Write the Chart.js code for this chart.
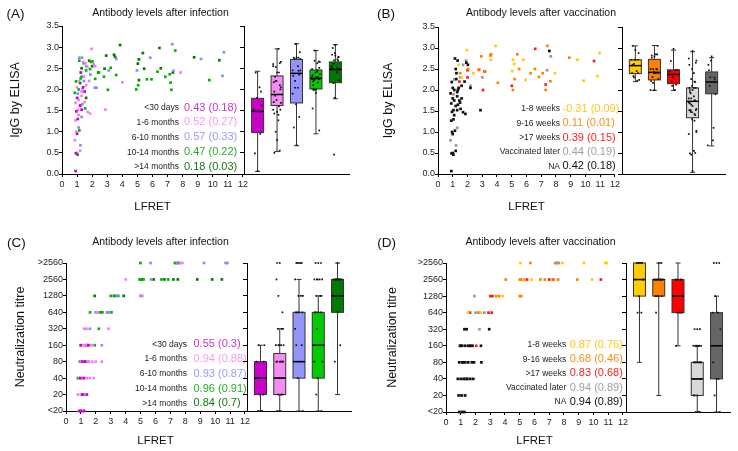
<!DOCTYPE html>
<html>
<head>
<meta charset="utf-8">
<script src="https://cdn.jsdelivr.net/npm/chart.js@4.4.1/dist/chart.umd.min.js"></script>
<style>
  html, body { margin: 0; padding: 0; background: #fff; }
  #figure { position: relative; width: 738px; height: 451px; overflow: hidden; }
  #figure canvas { position: absolute; }
</style>
</head>
<body>
<div id="figure">
  <canvas id="scatterA" width="250" height="220" style="left:0px;top:0px"></canvas>
  <canvas id="boxA" width="115" height="220" style="left:238px;top:0px"></canvas>
  <canvas id="scatterB" width="252" height="220" style="left:370px;top:0px"></canvas>
  <canvas id="boxB" width="115" height="220" style="left:615px;top:0px"></canvas>
  <canvas id="scatterC" width="252" height="221" style="left:0px;top:230px"></canvas>
  <canvas id="boxC" width="115" height="221" style="left:240px;top:230px"></canvas>
  <canvas id="scatterD" width="260" height="221" style="left:370px;top:230px"></canvas>
  <canvas id="boxD" width="118" height="221" style="left:620px;top:230px"></canvas>
</div>
<script>
// ---------- data ----------
// titre axis: '<20' is plotted as 10 and '>2560' as 5120
const titreLevels = [10, 20, 40, 80, 160, 320, 640, 1280, 2560, 5120];
const titreLabels = ['<20', '20', '40', '80', '160', '320', '640', '1280', '2560', '>2560'];

const infGroups = ['<30 days', '1-6 months', '6-10 months', '10-14 months', '>14 months'];
const vacGroups = ['1-8 weeks', '9-16 weeks', '>17 weeks', 'Vaccinated later', 'NA'];

// r (r²) printed next to each group
const elisaInfR = ['0.43 (0.18)', '0.52 (0.27)', '0.57 (0.33)', '0.47 (0.22)', '0.18 (0.03)'];
const elisaVacR = ['-0.31 (0.09)', '0.11 (0.01)', '0.39 (0.15)', '0.44 (0.19)', '0.42 (0.18)'];
const neutInfR = ['0.55 (0.3)', '0.94 (0.88)', '0.93 (0.87)', '0.96 (0.91)', '0.84 (0.7)'];
const neutVacR = ['0.87 (0.76)', '0.68 (0.46)', '0.83 (0.68)', '0.94 (0.89)', '0.94 (0.89)'];

// [LFRET, IgG ELISA] by time since infection
const elisaInfLt30 = [[0.9,0.07],[0.92,0.49],[1.0,0.95],[1.05,1.3],[0.95,1.48],[1.3,1.52],[1.2,1.62],[1.0,1.8],[1.4,2.05],[1.25,2.4],[1.5,1.95]];
const elisaInf1to6 = [[0.85,0.8],[1.0,0.5],[1.2,0.55],[0.95,1.0],[0.9,1.27],[1.05,1.52],[0.9,1.68],[1.1,1.75],[1.2,1.6],[1.3,1.85],[1.35,2.0],[1.5,1.7],[1.7,1.47],[1.86,1.43],[1.55,2.62],[1.68,2.53],[1.96,2.96],[2.1,2.6],[1.0,2.05],[1.15,2.2],[1.25,2.4],[1.45,2.3],[2.88,1.52],[4.0,2.17],[7.86,2.4],[1.3,1.95],[1.6,2.1],[1.8,2.2],[1.1,1.4],[2.2,2.55],[1.4,2.65]];
const elisaInf6to10 = [[1.15,2.75],[1.33,2.75],[1.88,2.35],[2.18,2.04],[2.29,2.04],[3.1,2.45],[4.97,2.45],[7.31,3.07],[7.4,2.44],[9.22,2.72],[10.73,2.88],[10.64,2.32],[1.22,0.68],[1.1,1.1],[1.3,1.35],[1.45,2.2],[1.6,2.55],[1.05,1.9],[3.6,2.72],[1.35,1.65],[5.85,2.75]];
const elisaInf10to14 = [[0.85,1.92],[0.93,2.19],[1.24,2.26],[1.15,2.68],[1.44,2.62],[1.86,2.48],[1.92,2.65],[2.45,2.4],[2.78,2.3],[3.04,1.99],[3.23,2.51],[3.59,2.34],[4.92,2.0],[5.05,2.1],[5.63,2.24],[5.93,2.24],[6.33,2.42],[6.85,2.3],[7.14,2.36],[7.25,1.99],[7.2,2.16],[9.77,2.22],[1.15,1.03],[1.53,1.55],[1.3,2.3],[1.1,2.0],[2.03,2.66],[7.51,2.92],[1.6,2.45],[2.2,2.25]];
const elisaInfGt14 = [[3.85,3.05],[6.46,2.98],[8.76,2.76],[10.43,2.69],[7.35,2.4],[6.55,2.5],[5.45,2.49],[5.36,2.86],[5.1,2.71],[5.03,2.61],[3.52,2.77],[3.45,2.82],[2.93,2.8],[2.82,2.49],[1.8,2.68],[1.04,0.46],[1.3,2.5],[2.0,2.55],[5.1,2.22],[1.6,1.8],[2.4,2.4],[1.2,2.15]];

// [LFRET, IgG ELISA] by time since vaccination
const elisaVac1to8 = [[1.95,2.95],[3.9,3.05],[5.09,2.72],[5.16,2.62],[5.03,2.45],[5.78,2.72],[5.94,2.24],[9.44,2.72],[9.87,2.22],[10.8,2.33],[10.95,2.88],[7.92,2.4],[3.59,2.72],[1.4,2.6],[2.4,2.4],[1.6,2.3]];
const elisaVac9to16 = [[2.94,2.8],[3.55,2.82],[3.6,2.85],[4.06,2.17],[5.38,2.85],[5.08,2.0],[5.2,2.26],[6.28,2.4],[6.57,2.5],[6.84,2.31],[7.42,3.05],[7.62,2.21],[7.3,2.0],[8.9,2.77],[2.79,2.49],[2.05,2.5],[1.5,2.4],[5.5,2.5],[7.1,2.4],[3.2,2.44]];
const elisaVacGt17 = [[6.59,2.98],[10.58,2.69],[7.3,2.13],[5.0,2.1],[3.05,2.0],[3.15,2.44],[2.77,2.48],[2.0,2.3],[2.0,2.47],[1.45,2.2]];
const elisaVacLater = [[0.9,0.07],[0.92,0.49],[1.0,0.5],[1.04,0.46],[1.2,0.55],[1.0,0.95],[1.15,1.03],[1.05,1.3],[0.9,1.27],[0.95,1.48],[1.05,1.52],[1.3,1.52],[1.2,1.62],[0.9,1.68],[1.1,1.75],[1.0,1.8],[1.3,1.85],[1.5,1.7],[1.53,1.55],[1.7,1.47],[1.86,1.43],[0.85,1.92],[1.0,2.05],[1.4,2.05],[1.1,2.0],[1.35,2.0],[0.93,2.19],[1.24,2.26],[1.25,2.4],[1.15,2.75],[1.33,2.7],[1.6,2.1],[1.8,2.2],[2.88,1.52],[1.92,2.65],[2.03,2.6],[7.55,2.93],[1.3,1.95],[1.1,1.4],[1.35,1.65],[2.2,2.05],[1.6,1.8],[0.95,1.0],[1.2,2.5],[1.45,1.75]];
const elisaVacNA = [[7.65,2.8],[7.4,2.47],[3.0,2.3],[1.5,2.3],[0.85,0.8],[1.22,0.68],[1.05,1.9],[1.9,2.7],[1.3,1.1],[2.2,2.1],[1.1,2.25],[1.7,2.6]];

// [LFRET, neutralization titre] by time since infection
const neutInfLt30 = [[0.9,10],[1.0,10],[1.1,20],[0.95,40],[1.2,40],[1.3,80],[1.0,160],[1.4,20],[1.2,10],[1.5,160],[1.1,80]];
const neutInf1to6 = [[0.85,10],[1.2,10],[0.8,20],[1.0,20],[1.3,20],[0.9,40],[1.1,40],[1.4,40],[1.6,40],[1.85,40],[1.15,80],[1.5,80],[1.75,80],[2.0,80],[2.4,80],[0.95,160],[1.2,160],[1.4,160],[1.65,160],[1.8,160],[1.22,320],[1.37,320],[2.85,320],[4.01,2560],[7.65,5120],[7.8,5120],[2.1,640],[5.1,1280],[1.0,80]];
const neutInf6to10 = [[5.67,5120],[9.25,5120],[10.7,5120],[10.82,5120],[7.45,5120],[5.7,2560],[4.99,1280],[5.1,1280],[3.4,1280],[1.99,640],[2.1,640],[2.75,640],[2.9,640],[2.4,160],[1.3,160],[1.1,40],[1.5,80],[1.6,320],[1.2,10]];
const neutInf10to14 = [[4.99,5120],[7.3,5120],[7.4,5120],[4.93,2560],[5.05,2560],[5.2,2560],[6.4,2560],[6.85,2560],[3.0,1280],[3.2,1280],[3.5,1280],[1.61,640],[2.3,640],[2.44,640],[3.05,640],[2.2,320],[1.93,160],[0.93,80],[1.0,80],[0.8,40],[1.3,160],[1.2,20],[1.0,10]];
const neutInfGt14 = [[7.55,5120],[5.1,2560],[5.88,2560],[6.6,2560],[7.2,2560],[7.5,2560],[8.8,2560],[9.8,2560],[10.45,2560],[1.92,1280],[3.87,1280],[3.3,1280],[2.8,640],[1.25,80],[1.4,160],[5.0,2560]];

// [LFRET, neutralization titre] by time since vaccination
const neutVac1to8 = [[5.05,5120],[7.9,5120],[9.35,5120],[10.8,5120],[10.9,5120],[5.8,2560],[9.9,2560],[3.85,1280],[2.37,640],[1.5,640],[5.2,2560]];
const neutVac9to16 = [[5.72,5120],[4.05,2560],[5.0,2560],[5.3,2560],[6.4,2560],[6.7,2560],[7.3,2560],[7.6,2560],[8.9,2560],[3.4,1280],[3.6,1280],[5.0,1280],[5.1,1280],[2.2,640],[7.5,5120]];
const neutVacGt17 = [[5.15,2560],[5.5,2560],[7.0,2560],[10.5,2560],[3.0,1280],[3.15,1280],[1.63,640],[2.88,640],[3.1,640],[2.05,160],[7.25,2560]];
const neutVacLater = [[1.25,320],[1.4,320],[2.93,320],[0.95,160],[1.1,160],[1.3,160],[1.5,160],[1.65,160],[1.8,160],[2.37,160],[0.9,80],[1.1,80],[1.3,80],[1.5,80],[1.75,80],[1.9,80],[2.4,80],[0.8,40],[1.0,40],[1.2,40],[1.45,40],[1.65,40],[1.85,40],[0.85,20],[1.05,20],[1.3,20],[0.9,10],[1.1,10],[1.25,10],[1.4,40],[1.2,80],[1.0,160]];
const neutVacNA = [[7.4,5120],[7.55,5120],[7.65,5120],[1.93,1280],[2.0,640],[2.6,640],[2.27,320],[1.6,160],[1.3,40],[1.1,20],[0.95,10],[1.5,80],[1.2,40],[1.7,160]];

// box plots: [whisker low, q1, median, q3, whisker high]
const boxElisaInf = [[0.06,0.98,1.48,1.79,2.43],[0.53,1.62,1.88,2.32,2.96],[0.67,1.68,2.38,2.71,3.08],[0.95,2.01,2.26,2.46,2.92],[1.78,2.16,2.47,2.65,3.06]];
const boxElisaVac = [[2.2,2.39,2.58,2.72,3.05],[1.99,2.24,2.42,2.73,3.06],[1.99,2.15,2.37,2.48,2.95],[0.04,1.34,1.73,2.05,2.91],[0.67,1.91,2.19,2.43,2.77]];
const boxNeutInf = [[10,20,40,80,160],[10,20,40,113,320],[10,40,80,640,2560],[10,40,160,640,1280],[20,640,1280,2560,5120]];
const boxNeutVac = [[80,1280,2560,5120,5120],[20,1280,2560,2560,5120],[160,640,1280,2560,5120],[10,20,40,80,160],[10,40,160,640,1280]];

// ---------- styles ----------
const FONT = "'Liberation Sans', Arial, Helvetica, sans-serif";
const axisColor = '#000';
const tickColor = '#222';
const infPointColors = ['#cc00cc', '#f27ff2', '#8a8aff', '#00b300', '#007a00'];
const infBoxColors = ['#cc00cc', '#f58cf5', '#9494fa', '#00cc00', '#007a00'];
const infTextColors = ['#cc33cc', '#f59af5', '#9a9aff', '#22b022', '#117a11'];
// in the scatter the large "vaccinated later" group is dark, NA is grey
const vacPointColors = ['#ffcc00', '#ff8000', '#ff1a1a', '#111111', '#999999'];
const vacBoxColors = ['#ffcc00', '#ff8000', '#ff0000', '#d9d9d9', '#666666'];
const vacTextColors = ['#ffc61a', '#ff8c1a', '#ff2222', '#a0a0a0', '#111111'];
const jitter = [0, -0.14, 0.14, -0.07, 0.07, -0.2, 0.2, -0.03, 0.1, -0.1, 0.17, -0.17];

Chart.defaults.font.family = FONT;
Chart.defaults.color = tickColor;

/**
 * Panel letter, title and the group / r (r²) column
 */
const panelTextPlugin = {
    id: 'panelText',
    afterDraw(chart, args, o) {
        const ctx = chart.ctx;
        ctx.save();
        ctx.textBaseline = 'middle';
        ctx.fillStyle = '#111';
        ctx.textAlign = 'left';
        ctx.font = `13.5px ${FONT}`;
        ctx.fillText(o.letter, o.letterX, o.letterY);
        ctx.textAlign = 'center';
        ctx.font = `10.5px ${FONT}`;
        ctx.fillText(o.title, o.titleX, o.titleY);
        o.labels.forEach((lab, i) => {
            const y = o.rowTop + i * o.rowStep;
            ctx.textAlign = 'right';
            ctx.fillStyle = '#222';
            ctx.font = `8.5px ${FONT}`;
            ctx.fillText(lab, o.labelRight, y);
            ctx.textAlign = 'left';
            ctx.fillStyle = o.valueColors[i];
            ctx.font = `11px ${FONT}`;
            ctx.fillText(o.values[i], o.valueLeft, y);
        });
        ctx.restore();
    }
};

/**
 * Draws whiskers, boxes and medians under the jittered points
 */
const boxPlotPlugin = {
    id: 'boxPlot',
    beforeDatasetsDraw(chart, args, o) {
        const { ctx, scales: { x, y } } = chart;
        o.stats.forEach((s, i) => {
            const cx = x.getPixelForValue(i + 1);
            const [lo, q1, med, q3, hi] = s.map(v => y.getPixelForValue(v));
            const half = 6;
            ctx.save();
            ctx.strokeStyle = '#333';
            ctx.lineWidth = 1;
            ctx.beginPath();
            ctx.moveTo(cx, lo); ctx.lineTo(cx, hi);
            ctx.moveTo(cx - 2.5, lo); ctx.lineTo(cx + 2.5, lo);
            ctx.moveTo(cx - 2.5, hi); ctx.lineTo(cx + 2.5, hi);
            ctx.stroke();
            ctx.fillStyle = o.fills[i];
            ctx.fillRect(cx - half, q3, half * 2, q1 - q3);
            ctx.strokeRect(cx - half, q3, half * 2, q1 - q3);
            ctx.strokeStyle = '#000';
            ctx.lineWidth = 1.5;
            ctx.beginPath();
            ctx.moveTo(cx - half, med); ctx.lineTo(cx + half, med);
            ctx.stroke();
            ctx.restore();
        });
    }
};

function valueAxis(kind) {
    if (kind === 'elisa') {
        return { type: 'linear', min: 0, max: 3.5, ticks: { stepSize: 0.5, callback: v => v.toFixed(1) } };
    }
    return {
        type: 'logarithmic', min: 10, max: 5120,
        afterBuildTicks: scale => { scale.ticks = titreLevels.map(v => ({ value: v })); },
        ticks: { callback: v => titreLabels[titreLevels.indexOf(v)] }
    };
}

function makeScatter(id, p) {
    const yAxis = valueAxis(p.kind);
    return new Chart(document.getElementById(id), {
        type: 'scatter',
        data: {
            datasets: p.series.map((pts, i) => ({
                data: pts.map(([x, y]) => ({ x, y })),
                pointStyle: 'rect',
                pointRadius: 1.9,
                borderWidth: 0,
                backgroundColor: p.colors[i],
                clip: false
            }))
        },
        options: {
            responsive: false,
            animation: false,
            events: [],
            layout: { padding: { left: 0, top: p.top, right: p.right, bottom: p.bottom } },
            plugins: { legend: { display: false }, tooltip: { enabled: false }, panelText: p.text },
            scales: {
                x: {
                    type: 'linear', min: 0, max: 12,
                    ticks: { stepSize: 1, font: { size: 9 }, color: tickColor, padding: 2, maxRotation: 0, autoSkip: false },
                    grid: { drawOnChartArea: false, color: axisColor, tickLength: 3 },
                    border: { color: axisColor },
                    title: { display: true, text: 'LFRET', font: { size: 11.5 }, color: '#111', padding: { top: 0, bottom: p.xTitlePad } },
                    afterFit: s => { s.height = p.xHeight; }
                },
                y: Object.assign(yAxis, {
                    ticks: Object.assign(yAxis.ticks, { font: { size: 9 }, color: tickColor, padding: 0, autoSkip: false }),
                    grid: { drawOnChartArea: false, color: axisColor, tickLength: 3 },
                    border: { color: axisColor },
                    title: { display: true, text: p.yTitle, font: { size: 12.5 }, color: '#111', padding: { top: p.yTitlePad, bottom: 0 } },
                    afterFit: s => { s.width = p.yWidth; }
                })
            }
        },
        plugins: [panelTextPlugin]
    });
}

function makeBox(id, p) {
    const yAxis = valueAxis(p.kind);
    const dots = p.series.flatMap((pts, i) => pts.map(([, y], j) => ({ x: i + 1 + jitter[j % jitter.length], y })));
    return new Chart(document.getElementById(id), {
        type: 'scatter',
        data: {
            datasets: [{ data: dots, pointStyle: 'rect', pointRadius: 1.2, borderWidth: 0, backgroundColor: '#111', clip: false }]
        },
        options: {
            responsive: false,
            animation: false,
            events: [],
            layout: { padding: { left: 0, top: p.top, right: p.right, bottom: p.bottom } },
            plugins: { legend: { display: false }, tooltip: { enabled: false }, boxPlot: { stats: p.stats, fills: p.fills } },
            scales: {
                x: {
                    type: 'linear', min: 0.3, max: 5.7,
                    ticks: { display: false },
                    grid: { display: false },
                    border: { color: axisColor },
                    afterFit: s => { s.height = 0; }
                },
                y: Object.assign(yAxis, {
                    ticks: Object.assign(yAxis.ticks, { display: false }),
                    grid: { drawOnChartArea: false, color: axisColor, tickLength: 4 },
                    border: { color: axisColor },
                    afterFit: s => { s.width = p.yWidth; }
                })
            }
        },
        plugins: [boxPlotPlugin]
    });
}

document.addEventListener('DOMContentLoaded', function() {
    const elisaInf = [elisaInfLt30, elisaInf1to6, elisaInf6to10, elisaInf10to14, elisaInfGt14];
    const elisaVac = [elisaVac1to8, elisaVac9to16, elisaVacGt17, elisaVacLater, elisaVacNA];
    const neutInf = [neutInfLt30, neutInf1to6, neutInf6to10, neutInf10to14, neutInfGt14];
    const neutVac = [neutVac1to8, neutVac9to16, neutVacGt17, neutVacLater, neutVacNA];

    // (A) ELISA vs LFRET after infection
    makeScatter('scatterA', {
        kind: 'elisa', series: elisaInf, colors: infPointColors, yTitle: 'IgG by ELISA',
        top: 26, right: 5, bottom: 6, yWidth: 62, xHeight: 40, xTitlePad: 0, yTitlePad: 8,
        text: { letter: '(A)', letterX: 6.5, letterY: 14, title: 'Antibody levels after infection', titleX: 160.5, titleY: 13.5,
            labels: infGroups, values: elisaInfR, valueColors: infTextColors, labelRight: 179, valueLeft: 184, rowTop: 107.5, rowStep: 14.9 }
    });
    makeBox('boxA', { kind: 'elisa', series: elisaInf, stats: boxElisaInf, fills: infBoxColors, top: 26, right: 4, bottom: 46, yWidth: 6 });

    // (B) ELISA vs LFRET after vaccination
    makeScatter('scatterB', {
        kind: 'elisa', series: elisaVac, colors: vacPointColors, yTitle: 'IgG by ELISA',
        top: 27, right: 5, bottom: 6, yWidth: 68, xHeight: 40, xTitlePad: 0, yTitlePad: 11,
        text: { letter: '(B)', letterX: 7, letterY: 14, title: 'Antibody levels after vaccination', titleX: 171, titleY: 13.5,
            labels: vacGroups, values: elisaVacR, valueColors: vacTextColors, labelRight: 190, valueLeft: 192.5, rowTop: 109, rowStep: 14.3 }
    });
    makeBox('boxB', { kind: 'elisa', series: elisaVac, stats: boxElisaVac, fills: vacBoxColors, top: 27, right: 5, bottom: 46, yWidth: 7 });

    // (C) neutralization vs LFRET after infection
    makeScatter('scatterC', {
        kind: 'titre', series: neutInf, colors: infPointColors, yTitle: 'Neutralization titre',
        top: 33, right: 5, bottom: 0, yWidth: 66, xHeight: 40, xTitlePad: 3, yTitlePad: 13,
        text: { letter: '(C)', letterX: 7, letterY: 13, title: 'Antibody levels after infection', titleX: 160.5, titleY: 11.7,
            labels: infGroups, values: neutInfR, valueColors: infTextColors, labelRight: 187, valueLeft: 193.5, rowTop: 114.3, rowStep: 14.75 }
    });
    makeBox('boxC', { kind: 'titre', series: neutInf, stats: boxNeutInf, fills: infBoxColors, top: 33, right: 3, bottom: 40, yWidth: 7 });

    // (D) neutralization vs LFRET after vaccination
    makeScatter('scatterD', {
        kind: 'titre', series: neutVac, colors: vacPointColors, yTitle: 'Neutralization titre',
        top: 33, right: 5, bottom: 0, yWidth: 76, xHeight: 39, xTitlePad: 3, yTitlePad: 15,
        text: { letter: '(D)', letterX: 7.3, letterY: 13, title: 'Antibody levels after vaccination', titleX: 170.5, titleY: 11.7,
            labels: vacGroups, values: neutVacR, valueColors: vacTextColors, labelRight: 196.3, valueLeft: 199.7, rowTop: 115, rowStep: 14.2 }
    });
    makeBox('boxD', { kind: 'titre', series: neutVac, stats: boxNeutVac, fills: vacBoxColors, top: 33, right: 8, bottom: 39, yWidth: 6 });
});
</script>
</body>
</html>
